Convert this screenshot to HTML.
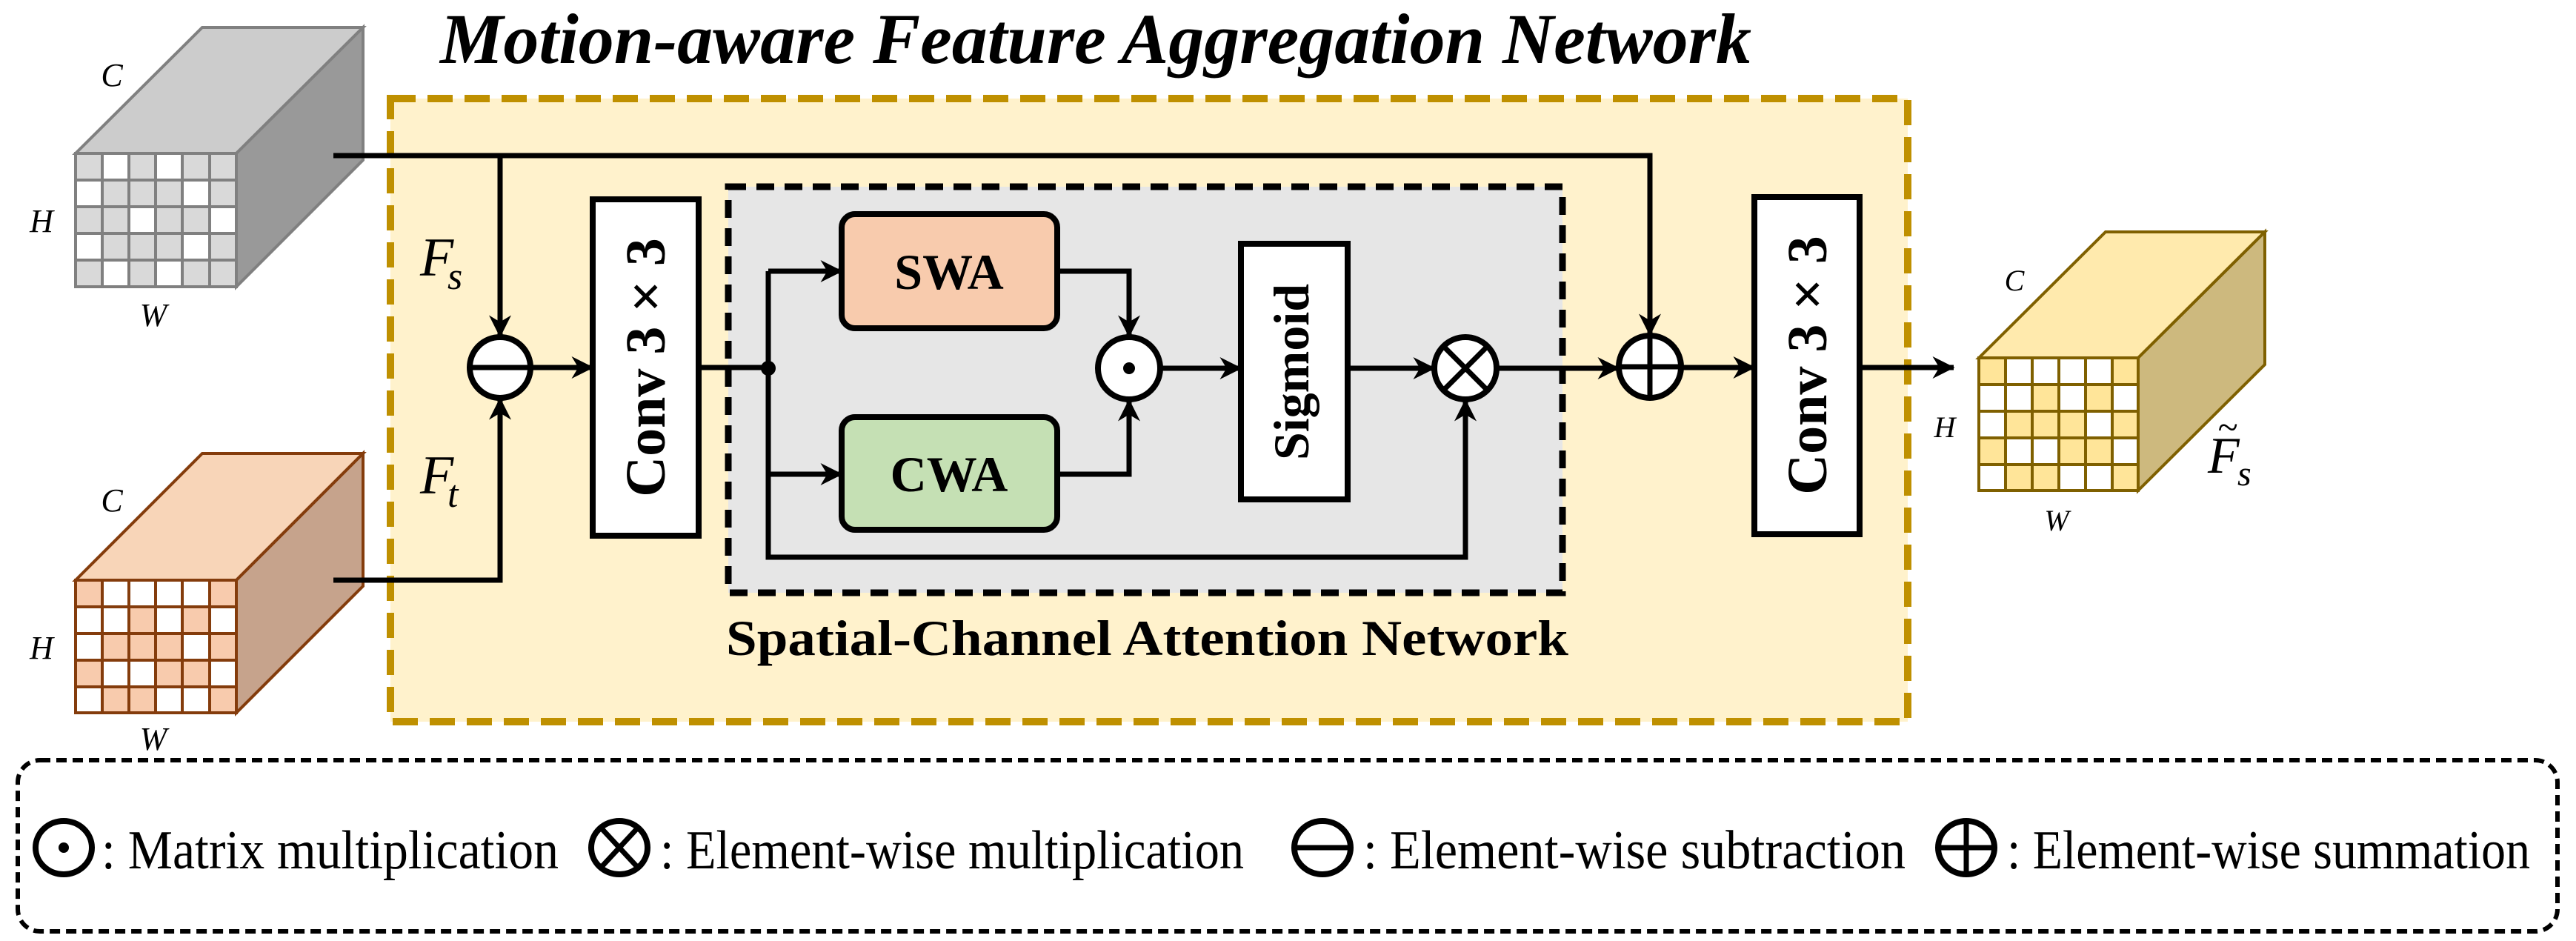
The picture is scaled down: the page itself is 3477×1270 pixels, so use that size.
<!DOCTYPE html>
<html><head><meta charset="utf-8"><style>
html,body{margin:0;padding:0;background:#fff;}
svg{display:block;}
text{font-family:"Liberation Serif",serif;}
</style></head><body>
<svg width="3477" height="1270" viewBox="0 0 3477 1270" xmlns="http://www.w3.org/2000/svg">
<defs>
<marker id="a" markerUnits="userSpaceOnUse" viewBox="0 0 20 20" refX="19" refY="10" markerWidth="34" markerHeight="30" orient="auto">
<path d="M0,0 L20,10 L0,20 L6,10 Z" fill="#000"/></marker>
</defs>

<text x="1479" y="85" font-size="96" font-weight="bold" font-style="italic" text-anchor="middle">Motion-aware Feature Aggregation Network</text>

<rect x="527" y="133" width="2048" height="841" fill="#fff2cc" stroke="#bf9000" stroke-width="10" stroke-dasharray="34,16"/>
<rect x="983" y="252" width="1126" height="548" fill="#e6e6e6" stroke="#000" stroke-width="9" stroke-dasharray="24,14"/>
<text x="980" y="884" font-size="68" font-weight="bold" textLength="1137" lengthAdjust="spacingAndGlyphs">Spatial-Channel Attention Network</text>

<g stroke="#808080" stroke-width="4">
<polygon points="102,207 273,37 490,37 319,207" fill="#cccccc"/>
<polygon points="319,207 490,37 490,216 319,387" fill="#999999"/>
<rect x="102" y="207" width="217" height="180" fill="#d9d9d9"/>
</g>
<g fill="#fff">
<rect x="138" y="207" width="36" height="36"/><rect x="210" y="207" width="36" height="36"/>
<rect x="102" y="243" width="36" height="36"/><rect x="246" y="243" width="36" height="36"/>
<rect x="174" y="279" width="36" height="36"/><rect x="283" y="279" width="36" height="36"/>
<rect x="102" y="315" width="36" height="36"/><rect x="246" y="315" width="36" height="36"/>
<rect x="138" y="351" width="36" height="36"/><rect x="210" y="351" width="36" height="36"/>
</g>
<g stroke="#808080" stroke-width="4" fill="none">
<path d="M138,207V387M174,207V387M210,207V387M246,207V387M283,207V387M102,243H319M102,279H319M102,315H319M102,351H319"/>
<rect x="102" y="207" width="217" height="180"/>
</g>
<text x="151" y="116" font-size="44" font-style="italic" text-anchor="middle">C</text>
<text x="56" y="313" font-size="44" font-style="italic" text-anchor="middle">H</text>
<text x="207" y="440" font-size="44" font-style="italic" text-anchor="middle">W</text>

<g stroke="#843c0c" stroke-width="4">
<polygon points="102,783 273,612 490,612 319,783" fill="#f8d5b8"/>
<polygon points="319,783 490,612 490,791 319,962" fill="#c6a38c"/>
<rect x="102" y="783" width="217" height="179" fill="#f8cbad"/>
</g>
<g fill="#fff">
<rect x="138" y="783" width="36" height="36"/><rect x="174" y="783" width="36" height="36"/><rect x="210" y="783" width="36" height="36"/><rect x="246" y="783" width="36" height="36"/>
<rect x="102" y="819" width="36" height="36"/><rect x="138" y="819" width="36" height="36"/><rect x="210" y="819" width="36" height="36"/><rect x="283" y="819" width="36" height="36"/>
<rect x="102" y="855" width="36" height="36"/><rect x="246" y="855" width="36" height="36"/>
<rect x="138" y="891" width="36" height="36"/><rect x="174" y="891" width="36" height="36"/><rect x="283" y="891" width="36" height="36"/>
<rect x="102" y="927" width="36" height="35"/><rect x="210" y="927" width="36" height="35"/><rect x="246" y="927" width="36" height="35"/>
</g>
<g stroke="#843c0c" stroke-width="4" fill="none">
<path d="M138,783V962M174,783V962M210,783V962M246,783V962M283,783V962M102,819H319M102,855H319M102,891H319M102,927H319"/>
<rect x="102" y="783" width="217" height="179"/>
</g>
<text x="151" y="690" font-size="44" font-style="italic" text-anchor="middle">C</text>
<text x="56" y="889" font-size="44" font-style="italic" text-anchor="middle">H</text>
<text x="207" y="1012" font-size="44" font-style="italic" text-anchor="middle">W</text>

<g stroke="#7f6000" stroke-width="4">
<polygon points="2671,483 2842,313 3057,313 2886,483" fill="#ffeaad"/>
<polygon points="2886,483 3057,313 3057,492 2886,662" fill="#cdb97e"/>
<rect x="2671" y="483" width="215" height="179" fill="#ffe599"/>
</g>
<g fill="#fff">
<rect x="2707" y="483" width="36" height="36"/><rect x="2743" y="483" width="36" height="36"/><rect x="2779" y="483" width="36" height="36"/><rect x="2815" y="483" width="36" height="36"/>
<rect x="2671" y="519" width="36" height="36"/><rect x="2707" y="519" width="36" height="36"/><rect x="2779" y="519" width="36" height="36"/><rect x="2851" y="519" width="35" height="36"/>
<rect x="2671" y="555" width="36" height="36"/><rect x="2815" y="555" width="36" height="36"/>
<rect x="2707" y="591" width="36" height="36"/><rect x="2743" y="591" width="36" height="36"/><rect x="2851" y="591" width="35" height="36"/>
<rect x="2671" y="627" width="36" height="35"/><rect x="2779" y="627" width="36" height="35"/><rect x="2815" y="627" width="36" height="35"/>
</g>
<g stroke="#7f6000" stroke-width="4" fill="none">
<path d="M2707,483V662M2743,483V662M2779,483V662M2815,483V662M2851,483V662M2671,519H2886M2671,555H2886M2671,591H2886M2671,627H2886"/>
<rect x="2671" y="483" width="215" height="179"/>
</g>
<text x="2719" y="392" font-size="40" font-style="italic" text-anchor="middle">C</text>
<text x="2625" y="590" font-size="40" font-style="italic" text-anchor="middle">H</text>
<text x="2776" y="716" font-size="40" font-style="italic" text-anchor="middle">W</text>
<text x="2980" y="638" font-size="70" font-style="italic">F</text>
<text x="2993" y="593" font-size="50" font-style="italic">~</text>
<text x="3020" y="655" font-size="48" font-style="italic">s</text>

<text x="567" y="372" font-size="74" font-style="italic">F</text>
<text x="604" y="390" font-size="52" font-style="italic">s</text>
<text x="567" y="666" font-size="74" font-style="italic">F</text>
<text x="604" y="684" font-size="52" font-style="italic">t</text>

<g stroke="#000" stroke-width="7" fill="none">
<path d="M450,210 H2227 V452" marker-end="url(#a)"/>
<path d="M675,210 V454" marker-end="url(#a)"/>
<path d="M450,783 H675 V538" marker-end="url(#a)"/>
<path d="M716,496 H800" marker-end="url(#a)"/>
<path d="M943,496 H1037"/>
<path d="M1037,366 V752 H1978 V540" marker-end="url(#a)"/>
<path d="M1037,366 H1136" marker-end="url(#a)"/>
<path d="M1037,640 H1136" marker-end="url(#a)"/>
<path d="M1427,366 H1524 V454" marker-end="url(#a)"/>
<path d="M1427,640 H1524 V540" marker-end="url(#a)"/>
<path d="M1566,497 H1675" marker-end="url(#a)"/>
<path d="M1819,497 H1936" marker-end="url(#a)"/>
<path d="M2020,497 H2185" marker-end="url(#a)"/>
<path d="M2269,496 H2368" marker-end="url(#a)"/>
<path d="M2510,496 H2637" marker-end="url(#a)"/>
</g>
<circle cx="1037" cy="497" r="10" fill="#000"/>

<g stroke="#000" stroke-width="8" fill="#fff">
<circle cx="675" cy="496" r="41"/>
<circle cx="1524" cy="497" r="42"/>
<circle cx="1978" cy="497" r="42"/>
<circle cx="2227" cy="495" r="42"/>
</g>
<g stroke="#000" stroke-width="7">
<path d="M634,496 H716"/>
<path d="M1948,467 L2008,527 M2008,467 L1948,527"/>
<path d="M2185,495 H2269 M2227,453 V537"/>
</g>
<circle cx="1524" cy="497" r="8" fill="#000"/>

<rect x="800" y="269" width="143" height="454" fill="#fff" stroke="#000" stroke-width="8"/>
<text transform="translate(897,496) rotate(-90)" font-size="76" font-weight="bold" text-anchor="middle">Conv 3 × 3</text>
<rect x="2368" y="266" width="142" height="455" fill="#fff" stroke="#000" stroke-width="8"/>
<text transform="translate(2465,493) rotate(-90)" font-size="76" font-weight="bold" text-anchor="middle">Conv 3 × 3</text>
<rect x="1136" y="289" width="291" height="154" rx="18" fill="#f8cbad" stroke="#000" stroke-width="8"/>
<text x="1281" y="390" font-size="68" font-weight="bold" text-anchor="middle">SWA</text>
<rect x="1136" y="563" width="291" height="152" rx="18" fill="#c5e0b4" stroke="#000" stroke-width="8"/>
<text x="1281" y="663" font-size="68" font-weight="bold" text-anchor="middle">CWA</text>
<rect x="1675" y="329" width="144" height="345" fill="#fff" stroke="#000" stroke-width="8"/>
<text transform="translate(1766,502) rotate(-90)" font-size="68" font-weight="bold" text-anchor="middle">Sigmoid</text>

<rect x="24" y="1026" width="3428" height="231" rx="30" fill="none" stroke="#000" stroke-width="6" stroke-dasharray="14,8"/>
<g stroke="#000" stroke-width="8" fill="#fff">
<ellipse cx="86" cy="1144" rx="38" ry="36"/>
<ellipse cx="836" cy="1144" rx="38" ry="36"/>
<ellipse cx="1785" cy="1144" rx="38" ry="36"/>
<ellipse cx="2654" cy="1144" rx="38" ry="36"/>
</g>
<circle cx="86" cy="1144" r="7" fill="#000"/>
<g stroke="#000" stroke-width="7">
<path d="M810,1116 L862,1172 M862,1116 L810,1172"/>
<path d="M1747,1144 H1823"/>
<path d="M2616,1144 H2692 M2654,1108 V1180"/>
</g>
<g font-size="74" font-family="Liberation Serif, serif">
<text x="137" y="1172" textLength="617" lengthAdjust="spacingAndGlyphs">: Matrix multiplication</text>
<text x="891" y="1172" textLength="788" lengthAdjust="spacingAndGlyphs">: Element-wise multiplication</text>
<text x="1840" y="1172" textLength="732" lengthAdjust="spacingAndGlyphs">: Element-wise subtraction</text>
<text x="2709" y="1172" textLength="706" lengthAdjust="spacingAndGlyphs">: Element-wise summation</text>
</g>
</svg>
</body></html>
